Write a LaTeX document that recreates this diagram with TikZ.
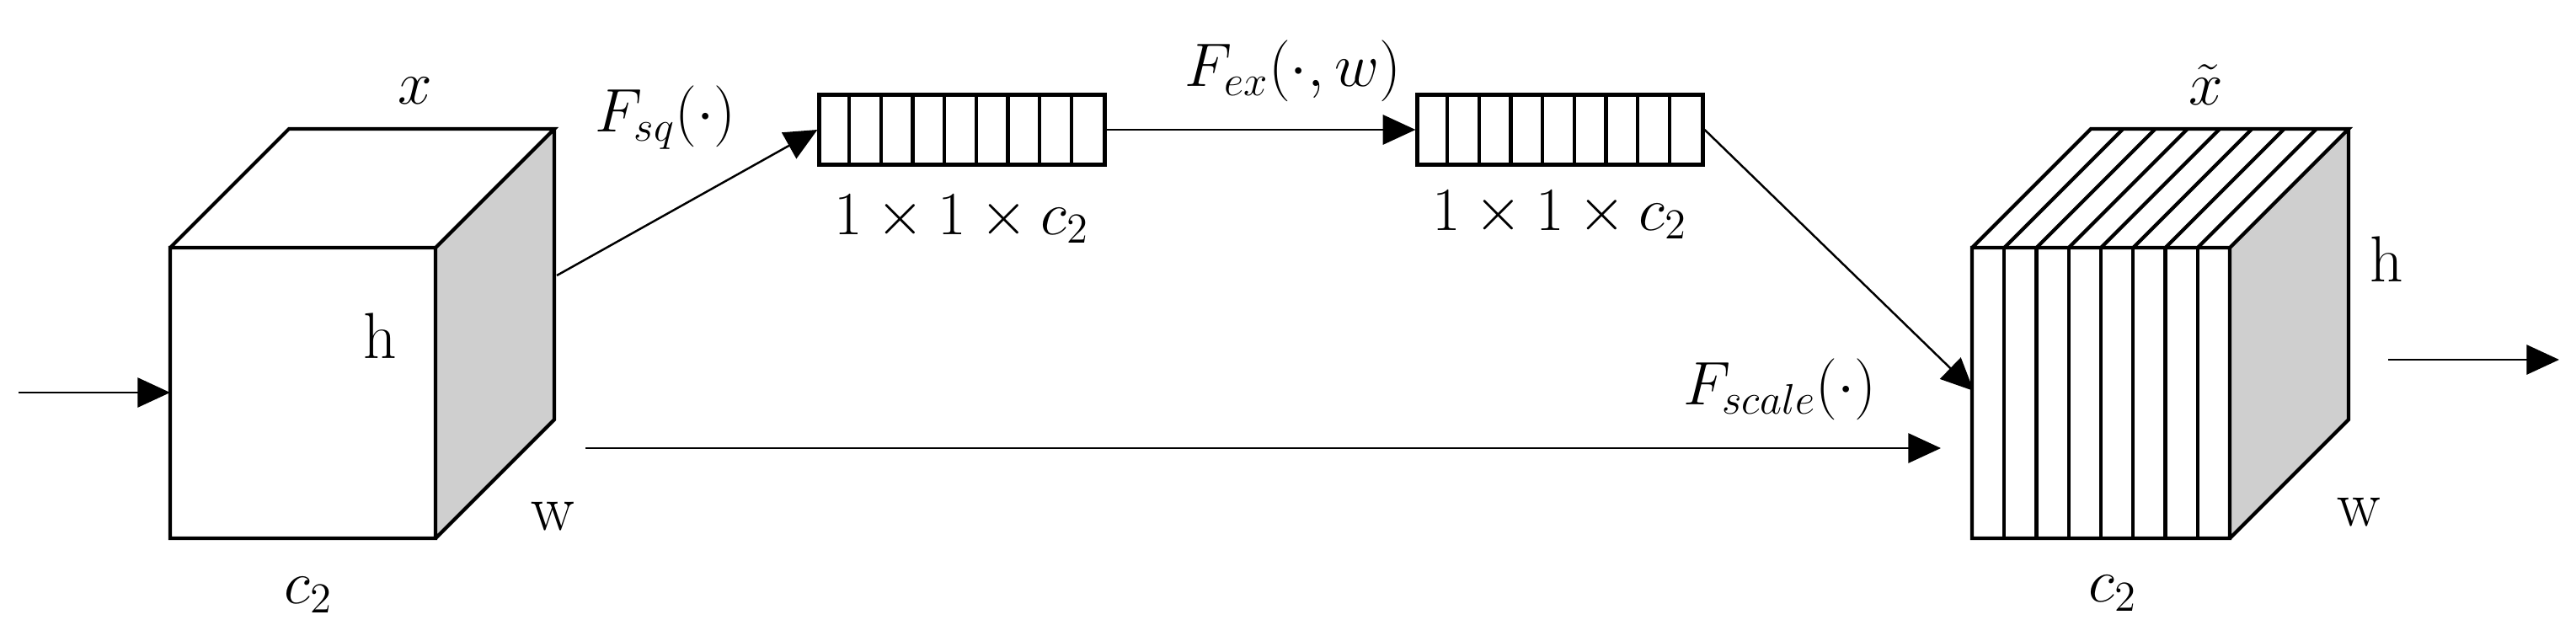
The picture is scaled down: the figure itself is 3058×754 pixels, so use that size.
\documentclass[tikz,border=0pt]{standalone}
\usetikzlibrary{arrows.meta,calc}
\begin{document}
\begin{tikzpicture}[x=0.01cm,y=-0.01cm,
  box/.style={line width=1.2pt,line join=miter},
  arr/.style={line width=0.7pt,-{Triangle[length=11pt,width=10pt]}},
  lbl/.style={font=\fontsize{22}{26}\selectfont,inner sep=0pt}]
\useasboundingbox (0,0) rectangle (3058,754);
% left cube
\coordinate (A1) at (202,294); \coordinate (A2) at (517,294);
\coordinate (A3) at (517,639); \coordinate (A4) at (202,639);
\coordinate (B1) at (343,153); \coordinate (B2) at (658,153); \coordinate (B3) at (658,498);
\fill[white] (A1)--(B1)--(B2)--(A2)--cycle;
\fill[gray!38] (A2)--(B2)--(B3)--(A3)--cycle;
\draw[box] (A1) rectangle (A3) (A1)--(B1)--(B2)--(A2) (B2)--(B3)--(A3);
\node[lbl] (xl) at (493,108) {$x$};
\node[lbl] (hl) at (451,399) {h};
\node[lbl] (wl) at (656,613) {w};
\node[lbl] (cl) at (366,706) {$c_2$};
% bars
\node[draw,line width=1.2pt,minimum width=339*0.01cm,minimum height=83*0.01cm,inner sep=0pt] (bar1) at (1142,154) {};
\node[draw,line width=1.2pt,minimum width=339*0.01cm,minimum height=83*0.01cm,inner sep=0pt] (bar2) at (1852,154) {};
\foreach \i in {1,...,8}{
  \draw[line width=1.2pt] ([xshift=\i*37.67*0.01cm]bar1.north west)--([xshift=\i*37.67*0.01cm]bar1.south west);
  \draw[line width=1.2pt] ([xshift=\i*37.67*0.01cm]bar2.north west)--([xshift=\i*37.67*0.01cm]bar2.south west);}
\node[lbl] (b1l) at (1142,260) {$1\times 1\times c_2$};
\node[lbl] (b2l) at (1852,255) {$1\times 1\times c_2$};
% right cube
\coordinate (C1) at (2341,294); \coordinate (C2) at (2647,294);
\coordinate (C3) at (2647,639); \coordinate (C4) at (2341,639);
\coordinate (D1) at (2482,153); \coordinate (D2) at (2788,153); \coordinate (D3) at (2788,498);
\fill[gray!38] (C2)--(D2)--(D3)--(C3)--cycle;
\foreach \i in {1,...,7}{
  \draw[box] ($(C1)+(\i*38.25,0)$)--($(C4)+(\i*38.25,0)$);
  \draw[box] ($(C1)+(\i*38.25,0)$)--($(D1)+(\i*38.25,0)$);}
\draw[box] (C1) rectangle (C3) (C1)--(D1)--(D2)--(C2) (D2)--(D3)--(C3);
\node[lbl] (xt) at (2619,101) {$\tilde{x}$};
\node[lbl] (hr) at (2833,308) {h};
\node[lbl] (wr) at (2800,608) {w};
\node[lbl] (cr) at (2508,704) {$c_2$};
% arrows
\coordinate (in) at (22,466); \coordinate (inE) at (202,466);
\draw[arr] (in)--(inE);
\coordinate (sq) at (661,327);
\draw[arr] (sq)--(bar1.west);
\draw[arr] (bar1.east)--(bar2.west);
\coordinate (ex) at (2343,464);
\draw[arr] (bar2.east)--(ex);
\coordinate (s0) at (695,532); \coordinate (s1) at (2304,532);
\draw[arr] (s0)--(s1);
\coordinate (o0) at (2835,427); \coordinate (o1) at (3038,427);
\draw[arr] (o0)--(o1);
\node[lbl] (fsq) at (790,140) {$F_{sq}(\cdot)$};
\node[lbl] (fex) at (1535,84) {$F_{ex}(\cdot,w)$};
\node[lbl] (fsc) at (2113,462) {$F_{scale}(\cdot)$};
\end{tikzpicture}
\end{document}
